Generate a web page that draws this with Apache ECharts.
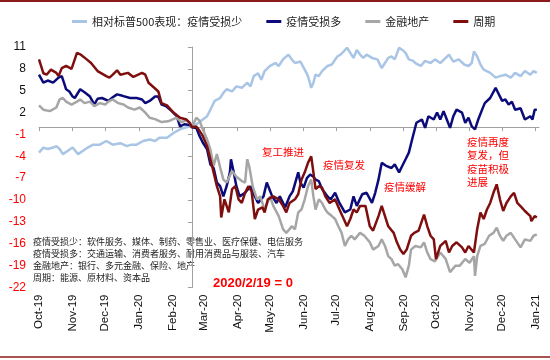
<!DOCTYPE html>
<html><head><meta charset="utf-8">
<script src="https://cdn.jsdelivr.net/npm/echarts@6/dist/echarts.min.js"></script>
<style>html,body{margin:0;padding:0;background:#fff}#c{width:550px;height:360px}</style>
</head><body><div id="c"></div>
<script>
// x values are day offsets counted from 2019-10-01; 2020-02-19 (day 141) = 0
const zeroDay = 141;
const axisEndDay = 461;
const monthTickDays = [0,31,61,92,123,152,183,213,244,274,305,336,366,397,427,458];
const monthTickLabels = ['Oct-19','Nov-19','Dec-19','Jan-20','Feb-20','Mar-20','Apr-20','May-20','Jun-20','Jul-20','Aug-20','Sep-20','Oct-20','Nov-20','Dec-20','Jan-21'];
const yMin = -22, yMax = 11, yStep = 3;
const seriesNames = ['相对标普500表现：疫情受损少','疫情受损多','金融地产','周期'];
const seriesColors = ['#A9C5E6','#0B0B7A','#A6A6A6','#7F0F0F'];

const lessDays = [0,4,8,13,16,19,22,27,31,36,41,45,50,56,62,68,75,81,85,90,96,102,107,111,118,124,130,136,139,141,145,148,151,155,159,162,167,170,173,178,182,187,192,195,198,202,205,208,213,218,221,225,230,233,236,241,245,248,251,253,255,258,261,266,270,275,278,281,284,287,290,293,296,299,302,307,312,316,319,322,325,328,332,335,338,341,345,347,352,356,361,365,370,375,378,382,387,392,396,399,401,404,407,410,416,421,425,430,435,439,444,448,453,456,459];
const lessVals = [-3.5,-2.8,-3.0,-2.8,-2.6,-3.0,-3.7,-3.2,-2.8,-3.7,-3.2,-2.8,-2.4,-2.4,-1.9,-2.4,-2.2,-2.6,-2.4,-2.4,-1.9,-1.7,-1.9,-1.45,-1.45,-0.8,-0.3,0.0,0.1,0,0.4,0.7,1.05,1.5,2.7,3.6,4.0,4.7,5.2,4.9,5.6,5.4,6.1,5.6,7.0,7.4,6.5,7.7,8.4,8.8,8.4,9.3,9.96,9.3,8.8,9.0,7.9,7.0,5.4,6.1,7.2,7.0,7.7,8.4,8.6,9.7,9.96,10.4,10.9,10.2,9.5,10.6,9.96,9.5,9.96,9.5,9.3,8.1,8.8,9.5,9.7,9.3,10.9,10.6,10.2,9.3,9.1,8.8,8.4,9.1,8.8,9.3,8.8,9.5,9.96,9.0,9.3,8.6,8.4,8.8,10.4,9.7,8.6,7.9,7.45,6.8,7.0,7.2,6.8,7.45,7.0,7.7,7.2,7.7,7.45];

const moreDays = [0,4,8,13,18,21,23,25,28,31,33,38,42,47,51,54,58,64,68,72,77,84,90,95,98,102,107,110,113,117,121,127,130,134,139,141,145,148,151,155,158,161,164,167,170,173,176,177,179,182,185,190,195,199,202,207,210,215,219,222,227,231,234,239,241,244,247,250,253,255,258,261,266,269,273,277,282,287,290,293,298,302,307,310,313,316,320,325,328,332,335,338,341,344,348,353,356,359,364,367,370,373,376,379,382,385,390,393,396,399,402,405,408,411,416,421,424,427,430,433,436,439,444,448,453,455,457,459];
const moreVals = [7.2,6.1,6.4,6.1,6.8,7.0,6.1,5.2,4.9,4.2,4.0,5.2,4.8,4.2,3.1,3.9,4.0,3.6,4.1,4.5,4.3,4.0,4.0,3.8,3.3,3.6,4.2,4.2,3.1,2.9,2.4,1.5,0.1,0.4,0.3,0,-0.1,-1.2,-2.1,-3.05,-5.1,-5.6,-7.6,-8.1,-9.5,-8.1,-6.2,-4.4,-5.8,-8.1,-9.5,-9.0,-8.1,-9.5,-10.4,-9.5,-7.6,-9.5,-10.4,-9.5,-11.0,-9.5,-8.8,-6.2,-7.6,-8.3,-7.0,-6.5,-6.8,-7.2,-7.4,-8.5,-9.5,-9.9,-9.0,-10.4,-11.7,-11.3,-9.5,-10.8,-9.2,-9.0,-10.4,-9.0,-7.2,-4.9,-5.3,-5.6,-5.1,-6.2,-5.3,-4.4,-3.5,-1.7,0.6,1.05,-0.1,1.5,1.05,2.0,1.05,2.2,1.05,-0.1,1.5,2.4,2.0,0.6,1.3,0.1,-0.3,1.05,2.2,3.3,4.0,5.4,4.5,3.6,3.8,3.1,3.5,2.4,2.6,1.05,1.5,1.05,2.4,2.4];

const finDays = [0,4,10,16,19,22,25,30,35,38,42,47,51,56,61,64,68,73,78,82,88,93,98,102,107,113,119,127,131,136,139,141,145,148,151,155,158,161,164,167,170,173,178,182,187,190,192,194,197,201,204,208,213,216,221,225,228,231,233,236,239,242,245,248,251,253,255,258,261,264,266,270,273,276,279,282,285,288,291,296,300,305,308,313,316,319,322,325,328,331,335,338,341,343,347,352,355,358,361,365,370,375,379,384,388,393,397,401,402,404,407,411,415,419,422,425,428,431,435,439,444,448,453,456,459];
const finVals = [3.0,2.4,2.2,2.7,3.8,4.0,3.5,3.1,3.5,3.8,3.3,3.5,2.9,3.3,3.1,3.5,3.8,3.3,3.1,2.7,2.4,2.7,2.0,1.3,1.1,0.7,0.8,1.3,0.7,0.9,0.6,0,1.3,0.9,-0.3,-1.7,-3.05,-5.3,-3.7,-5.5,-7.2,-7.6,-6.0,-6.8,-7.4,-7.6,-4.4,-5.5,-8.1,-9.9,-9.5,-11.3,-9.5,-10.8,-12.2,-14.0,-14.5,-14.0,-13.6,-14.0,-11.7,-11.3,-9.9,-8.1,-7.2,-9.5,-11.3,-9.9,-10.4,-11.3,-11.7,-12.2,-12.6,-13.6,-14.5,-16.3,-15.4,-14.9,-15.4,-14.5,-14.9,-15.8,-16.8,-16.3,-15.4,-16.3,-17.7,-18.1,-19.0,-18.8,-19.5,-20.6,-19.0,-16.8,-16.3,-16.5,-15.8,-17.2,-18.1,-18.4,-17.2,-18.1,-19.9,-19.0,-19.0,-18.1,-18.6,-17.7,-20.4,-17.7,-16.3,-16.0,-14.9,-14.5,-13.8,-14.9,-15.6,-14.9,-14.5,-15.4,-16.5,-15.4,-15.6,-14.9,-14.7];

const cycDays = [0,4,7,11,16,18,21,25,30,35,38,44,48,54,62,65,68,72,75,82,87,95,98,101,107,110,113,118,124,130,136,139,141,145,148,151,155,158,161,164,167,168,171,175,178,181,184,187,190,193,196,199,202,206,208,211,216,221,225,228,231,236,239,242,245,248,251,253,255,258,261,264,268,273,277,281,284,287,290,293,296,301,305,308,313,316,319,322,327,330,333,336,339,343,346,350,355,358,361,364,366,370,375,378,381,385,390,393,396,401,404,407,410,413,416,419,422,425,428,431,435,438,441,445,448,453,454,457,459];
const cycVals = [9.3,7.4,7.2,7.9,7.45,7.0,8.1,8.4,8.0,10.2,10.0,9.3,8.8,7.7,7.0,6.8,7.2,7.8,7.2,7.45,6.9,7.45,7.2,6.1,5.3,4.9,3.3,3.0,2.0,1.3,1.05,0.6,0,0.1,-0.5,-1.2,-2.6,-4.4,-6.2,-8.1,-9.5,-12.4,-9.9,-11.7,-8.5,-8.1,-9.9,-10.4,-9.0,-8.1,-8.8,-12.6,-11.3,-11.0,-11.7,-9.9,-9.5,-9.9,-10.8,-11.7,-10.4,-9.9,-9.2,-7.2,-6.2,-4.9,-4.0,-6.2,-8.5,-8.1,-8.3,-9.5,-10.4,-9.9,-11.3,-12.6,-13.6,-12.6,-11.3,-11.7,-10.8,-10.8,-13.6,-14.2,-12.2,-10.8,-12.2,-13.6,-14.5,-15.8,-16.8,-17.4,-16.8,-14.9,-14.5,-14.2,-12.0,-13.6,-14.9,-15.4,-18.1,-16.3,-15.6,-17.2,-16.3,-15.8,-16.5,-17.2,-16.3,-17.2,-14.0,-11.7,-12.6,-11.3,-10.4,-9.0,-7.85,-9.9,-11.5,-10.4,-9.5,-9.0,-10.4,-11.0,-11.5,-12.2,-12.9,-12.2,-12.4];

const notes = [
  '疫情受损少：软件服务、媒体、制药、零售业、医疗保健、电信服务',
  '疫情受损多：交通运输、消费者服务、耐用消费品与服装、汽车',
  '金融地产：银行、多元金融、保险、地产',
  '周期：能源、原材料、资本品'
];

const pairs = (days, vals) => days.map((d, i) => [d, vals[i]]);
const monthLabel = v => {
  const i = monthTickDays.indexOf(Math.round(Number(v)));
  return i >= 0 ? monthTickLabels[i] : '';
};

const CJK = '"Noto Sans CJK SC", sans-serif';
const LAT = '"Liberation Sans", Arial, sans-serif';
const GRID_LEFT = 39;

const chart = echarts.init(document.getElementById('c'), null, {renderer: 'canvas'});
const dataSets = [[lessDays, lessVals], [moreDays, moreVals], [finDays, finVals], [cycDays, cycVals]];

const option = {
  animation: false,
  backgroundColor: '#fff',
  grid: {left: GRID_LEFT, right: 11, top: 47, bottom: 72.5, outerBoundsMode: 'none', containLabel: false},
  legend: {
    data: seriesNames, left: 67, top: 11, icon: 'rect', itemWidth: 15, itemHeight: 3, itemGap: 24,
    textStyle: {fontFamily: CJK, fontSize: 11, color: '#222'}
  },
  xAxis: [
    {type: 'value', min: 0, max: axisEndDay, position: 'bottom',
     axisLine: {onZero: true, lineStyle: {color: '#A0A0A0', width: 1}},
     axisTick: {show: true, length: 4, customValues: monthTickDays, lineStyle: {color: '#A0A0A0'}},
     axisLabel: {show: false}, splitLine: {show: false}},
    {type: 'value', min: 0, max: axisEndDay, position: 'bottom',
     axisLine: {show: false, onZero: false}, axisTick: {show: false},
     axisLabel: {show: true, rotate: 90, margin: 7, customValues: monthTickDays, formatter: monthLabel,
       fontFamily: LAT, fontSize: 11.5, color: '#111'},
     splitLine: {show: false}}
  ],
  yAxis: [
    {type: 'value', min: yMin, max: yMax, interval: yStep, position: 'left',
     axisLine: {show: false}, axisTick: {show: false}, splitLine: {show: false},
     axisLabel: {margin: 13, fontFamily: LAT, fontSize: 12,
       color: v => (Number(v) < 0 ? '#FF0000' : '#111')}},
    {type: 'value', min: yMin, max: yMax, interval: yStep, position: 'left', offset: 0,
     axisLine: {show: true, onZero: false, lineStyle: {color: '#A0A0A0', width: 1}},
     axisTick: {show: true, length: 4, lineStyle: {color: '#A0A0A0'}},
     axisLabel: {show: false}, splitLine: {show: false}}
  ],
  series: seriesNames.map((name, i) => ({
    name, type: 'line', xAxisIndex: 0, yAxisIndex: 0,
    data: pairs(dataSets[i][0], dataSets[i][1]),
    showSymbol: false, symbol: 'none', smooth: false,
    lineStyle: {color: seriesColors[i], width: 2.5}, itemStyle: {color: seriesColors[i]}
  })),
  graphic: [
    {type: 'line', shape: {x1: 0, y1: 1, x2: 550, y2: 1}, style: {stroke: '#8B1A1A', lineWidth: 2}},
    {type: 'line', shape: {x1: 0, y1: 357, x2: 550, y2: 357}, style: {stroke: '#8B1A1A', lineWidth: 1.5}},
    {type: 'text', x: 33, y: 236, style: {text: notes.join('\n'), fill: '#222', font: '9px ' + CJK, lineHeight: 12}},
    {type: 'text', x: 262, y: 147, style: {text: '复工推进', fill: '#FF0000', font: '10.5px ' + CJK}},
    {type: 'text', x: 323, y: 160, style: {text: '疫情复发', fill: '#FF0000', font: '10.5px ' + CJK}},
    {type: 'text', x: 384, y: 182, style: {text: '疫情缓解', fill: '#FF0000', font: '10.5px ' + CJK}},
    {type: 'text', x: 467, y: 135, style: {text: '疫情再度\n复发，但\n疫苗积极\n进展', fill: '#FF0000', font: '10.5px ' + CJK, lineHeight: 13.5}},
    {type: 'text', x: 213, y: 277, style: {text: '2020/2/19 = 0', fill: '#FF0000', font: 'bold 13px ' + LAT}}
  ]
};
chart.setOption(option);
const px = chart.convertToPixel({xAxisIndex: 0}, zeroDay);
chart.setOption({yAxis: [{}, {offset: GRID_LEFT - px}]});
</script></body></html>
